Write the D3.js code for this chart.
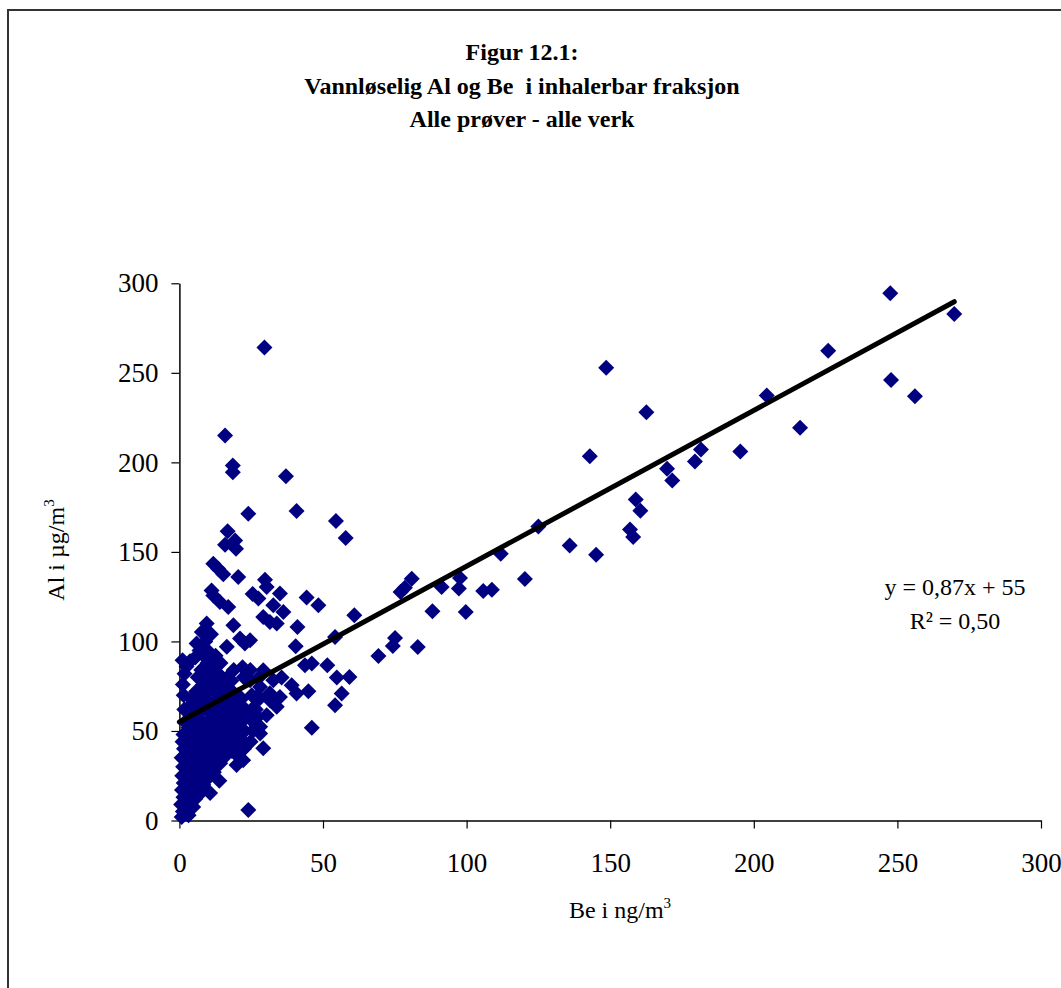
<!DOCTYPE html>
<html>
<head>
<meta charset="utf-8">
<script src="https://cdn.jsdelivr.net/npm/d3@7"></script>
<style>
  body { margin: 0; background: #fff; }
  svg { display: block; }
  text { font-family: "Liberation Serif", "Times New Roman", serif; fill: #000; }
</style>
</head>
<body>
<div id="chart"></div>
<script>
// Be (ng/m3) vs Al (ug/m3) as [be, al]
const highSamples = [
  [247.5, 294.5], [269.8, 282.8], [225.9, 262.4], [247.8, 246.0], [256.1, 236.9],
  [148.6, 252.9], [162.6, 228.0], [142.9, 203.4], [204.5, 237.3], [216.1, 219.4],
  [181.6, 207.2], [179.5, 200.5], [195.3, 206.0], [169.8, 196.4], [171.6, 189.9],
  [158.9, 179.3], [160.5, 173.0], [156.9, 162.5], [158.0, 158.3], [145.1, 148.4],
  [135.9, 153.6], [125.0, 164.2], [111.9, 149.0], [120.3, 134.8], [80.9, 135.0],
  [78.5, 130.0], [77.0, 127.6], [91.3, 130.4], [97.7, 135.4], [97.3, 129.5],
  [105.8, 128.2], [108.8, 128.9], [88.1, 116.8], [99.7, 116.4], [75.1, 101.9],
  [74.3, 97.5], [83.0, 96.9], [69.3, 91.9]
];

const midSamples = [
  [44.3, 124.5], [48.4, 120.2], [60.9, 114.6], [41.1, 108.1], [54.2, 102.5],
  [40.5, 97.3], [43.7, 86.7], [46.1, 87.7], [51.5, 86.7], [54.8, 79.9],
  [59.2, 80.2], [35.6, 79.9], [39.1, 75.6], [40.8, 70.9], [44.9, 72.2],
  [56.5, 70.9], [54.2, 64.4], [46.1, 51.8], [37.1, 192.3], [40.8, 172.8],
  [54.5, 167.2], [57.9, 157.7], [29.8, 134.5], [29.6, 264.2], [15.9, 215.0],
  [18.6, 198.2], [18.6, 194.5], [24.0, 171.3], [16.8, 161.6], [19.4, 156.4],
  [15.9, 154.0], [19.7, 151.8], [11.8, 143.4], [13.5, 140.6], [15.3, 137.5],
  [20.5, 136.0], [11.2, 128.5], [11.8, 125.7], [14.1, 122.0], [17.0, 119.2],
  [18.8, 109.0], [21.1, 101.6], [22.8, 98.8], [9.5, 110.0], [7.8, 105.3],
  [6.0, 98.8], [30.4, 130.4], [35.0, 126.7], [32.7, 120.2], [29.2, 113.6],
  [33.9, 110.0], [31.5, 110.9], [36.2, 116.4], [27.5, 124.0], [25.5, 126.5],
  [29.2, 83.9], [32.7, 78.3], [28.0, 68.3], [31.6, 67.0], [35.0, 69.0],
  [33.9, 63.5], [30.4, 58.8], [28.1, 52.3], [29.2, 40.3], [26.9, 52.3],
  [28.1, 48.6], [24.6, 78.3], [28.1, 74.6], [22.0, 85.6], [26.9, 69.0],
  [31.5, 71.0], [16.5, 97.0], [24.6, 100.6], [24.0, 5.9], [13.9, 22.2],
  [19.9, 31.0], [22.2, 33.7], [10.7, 15.3], [4.8, 7.5], [1.1, 89.5], [3.7, 89.0]
];

const clusterSamples = [
  [0.8, 2], [1.2, 5], [0.6, 9], [1.4, 13], [0.9, 17], [1.5, 21], [1.0, 25], [1.3, 30],
  [0.8, 35], [1.6, 40], [1.1, 44], [1.4, 48], [2.0, 55], [1.7, 62], [1.5, 70], [1.2, 76],
  [1.8, 82], [2.5, 86],
  [3.2, 3], [3.8, 10], [3.4, 14], [3.9, 19], [3.1, 24], [3.6, 28], [3.3, 33], [4.0, 37],
  [3.5, 42], [3.8, 46], [3.2, 52], [4.1, 58], [3.6, 64], [4.2, 68],
  [5.5, 12], [6.0, 17], [5.4, 21], [5.9, 27], [5.3, 31], [6.2, 36], [5.7, 41], [5.2, 47],
  [6.1, 53], [5.6, 60], [6.3, 66], [5.8, 72], [6.4, 80], [5.5, 91], [7.0, 95],
  [7.8, 16], [8.3, 20], [7.6, 25], [8.1, 30], [7.9, 34], [8.4, 39], [7.7, 44], [8.2, 50],
  [7.5, 56], [8.6, 63], [7.9, 70], [8.3, 76], [7.6, 84], [8.5, 92], [9.0, 100],
  [10.2, 24], [9.8, 28], [10.4, 33], [9.7, 38], [10.3, 43], [10.0, 48], [9.6, 54],
  [10.5, 60], [9.9, 67], [10.6, 74], [10.1, 81], [9.8, 88], [10.4, 94], [11.0, 104],
  [12.0, 27], [12.5, 32], [11.8, 37], [12.3, 42], [12.7, 47], [11.9, 53], [12.4, 58],
  [12.1, 65], [12.8, 71], [12.2, 78], [11.7, 85], [12.6, 92],
  [14.2, 32], [13.8, 36], [14.5, 41], [14.0, 46], [14.7, 52], [13.9, 57], [14.4, 63],
  [14.1, 69], [14.8, 75], [13.6, 82], [14.3, 88],
  [16.0, 36], [16.5, 40], [15.8, 45], [16.3, 50], [16.9, 56], [15.7, 61], [16.4, 68],
  [16.1, 74], [16.8, 80],
  [18.2, 39], [17.8, 44], [18.5, 48], [18.0, 55], [18.7, 60], [17.9, 65], [18.4, 72],
  [18.1, 78], [18.9, 84],
  [20.3, 36], [19.8, 42], [20.6, 47], [20.1, 53], [20.8, 58], [19.6, 64], [20.4, 70],
  [22.5, 40], [21.8, 45], [22.7, 50], [22.2, 56], [23.0, 62], [21.6, 68], [22.4, 80],
  [24.8, 44], [25.5, 50], [24.5, 57], [25.8, 63], [25.2, 70], [24.7, 84],
  [27.3, 58], [26.6, 62], [27.8, 80]
];

const xTicks = [0, 50, 100, 150, 200, 250, 300];
const yTicks = [0, 50, 100, 150, 200, 250, 300];
const titleLines = ["Figur 12.1:", "Vannløselig Al og Be  i inhalerbar fraksjon", "Alle prøver - alle verk"];
const trendSlope = 0.87;
const trendIntercept = 55;
const rSquared = "0,50";

const width = 1061, height = 988;
const samples = highSamples.concat(midSamples, clusterSamples);

const svg = d3.select("#chart").append("svg")
  .attr("width", width)
  .attr("height", height);

// outer frame (runs off the right and bottom edge)
svg.append("rect")
  .attr("x", 8).attr("y", 10)
  .attr("width", 1100).attr("height", 1100)
  .attr("fill", "none")
  .attr("stroke", "#333")
  .attr("stroke-width", 2);

const x = d3.scaleLinear().domain([0, 300]).range([179.4, 1041]);
const y = d3.scaleLinear().domain([0, 300]).range([820.5, 283.3]);

// title
svg.append("g").selectAll("text")
  .data(titleLines)
  .join("text")
  .attr("x", 522)
  .attr("y", (d, i) => 60 + i * 33.5)
  .attr("text-anchor", "middle")
  .attr("xml:space", "preserve")
  .style("white-space", "pre")
  .style("font-size", "24px")
  .style("font-weight", "bold")
  .text(d => d);

// axes
const xAxis = svg.append("g")
  .attr("transform", `translate(0,${y(0)})`)
  .call(d3.axisBottom(x).tickValues(xTicks).tickSize(8).tickSizeOuter(0).tickPadding(24));

const yAxis = svg.append("g")
  .attr("transform", `translate(${x(0)},0)`)
  .call(d3.axisLeft(y).tickValues(yTicks).tickSize(8).tickSizeOuter(0).tickPadding(13));

[xAxis, yAxis].forEach(g => {
  g.select(".domain").attr("stroke", "#000").attr("stroke-width", 1.5);
  g.selectAll(".tick line").attr("stroke", "#000").attr("stroke-width", 1.2);
  g.selectAll(".tick text")
    .style("font-size", "27px")
    .style("font-family", "'Liberation Serif', 'Times New Roman', serif")
    .attr("fill", "#000");
});

// markers
svg.append("g").selectAll("path")
  .data(samples)
  .join("path")
  .attr("transform", d => `translate(${x(d[0])},${y(d[1])})`)
  .attr("d", "M0,-8L8,0L0,8L-8,0Z")
  .attr("fill", "#000080");

// linear trendline
const maxBe = d3.max(samples, d => d[0]);
svg.append("line")
  .attr("x1", x(0)).attr("y1", y(trendIntercept))
  .attr("x2", x(maxBe)).attr("y2", y(trendSlope * maxBe + trendIntercept))
  .attr("stroke", "#000")
  .attr("stroke-width", 5)
  .attr("stroke-linecap", "round");

// equation
const eq = svg.append("g").attr("transform", "translate(955,0)");
eq.append("text").attr("y", 595).attr("text-anchor", "middle")
  .style("font-size", "24px")
  .text(`y = ${String(trendSlope).replace(".", ",")}x + ${trendIntercept}`);
eq.append("text").attr("y", 629).attr("text-anchor", "middle")
  .style("font-size", "24px")
  .text(`R² = ${rSquared}`);

// axis titles
const xt = svg.append("text")
  .attr("x", 620).attr("y", 918)
  .attr("text-anchor", "middle")
  .style("font-size", "24px");
xt.append("tspan").text("Be i ng/m");
xt.append("tspan").attr("dy", -10).style("font-size", "15px").text("3");

const yt = svg.append("text")
  .attr("transform", "translate(64,550) rotate(-90)")
  .attr("text-anchor", "middle")
  .style("font-size", "24px");
yt.append("tspan").text("Al i µg/m");
yt.append("tspan").attr("dy", -10).style("font-size", "15px").text("3");
</script>
</body>
</html>
